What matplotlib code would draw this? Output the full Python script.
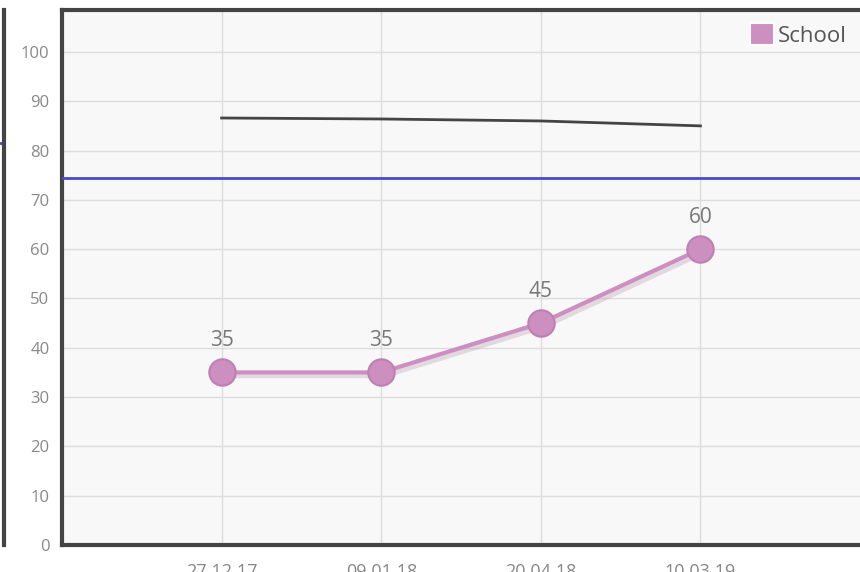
import matplotlib
matplotlib.use('Agg')
import matplotlib.pyplot as plt
from matplotlib.patches import Rectangle
import numpy as np

plt.rcParams['font.family'] = ['Open Sans', 'DejaVu Sans']

# data
dates = ['27.12.17', '09.01.18', '20.04.18', '10.03.19']
school = [35, 35, 45, 60]
avg_line = [86.6, 86.4, 86.0, 85.0]
target = 74.4
yticks = list(range(0, 101, 10))

fig = plt.figure(figsize=(8.6, 5.72), dpi=100)
fig.patch.set_facecolor('white')

# fragment of the neighbouring chart on the left
left = fig.add_axes([-0.2, 0.0472, 0.205, 0.9353])
left.set_xlim(0, 1)
left.set_ylim(0, 108.5)
left.axhline(81.5, color='#4a4acc', lw=2)
for s in ['top', 'bottom', 'left']:
    left.spines[s].set_visible(False)
left.spines['right'].set_color('#444444')
left.spines['right'].set_linewidth(3)
left.set_xticks([])
left.set_yticks([])
left.set_facecolor('white')

ax = fig.add_axes([0.0721, 0.0472, 0.9279, 0.9353])
ax.set_facecolor('#f8f8f8')
x = np.arange(len(dates))

ax.axhline(target, color='#4a4acc', lw=2, zorder=3)
ax.plot(x, avg_line, color='#444444', lw=2, zorder=3)

# shadow under pink line
ax.plot(x + 0.02, np.array(school) - 0.6, color='#b090a8', lw=4, alpha=0.3, zorder=3)
ax.plot(x, school, color='#cc8fbf', lw=3, marker='o', markersize=19,
        markerfacecolor='#cc8fbf', markeredgecolor='#c07fb2', markeredgewidth=1.5,
        label='School', zorder=4)
for xi, v in zip(x, school):
    ax.annotate(str(v), (xi, v), xytext=(0, 23), textcoords='offset points',
                ha='center', va='center', fontsize=15, color='#777777')

ax.set_xlim(-1, 4.0)
ax.set_ylim(0, 108.5)
ax.set_yticks(yticks)
ax.set_xticks(x)
ax.set_xticklabels(dates)
ax.tick_params(axis='both', length=0, colors='#888888', labelsize=12)
ax.tick_params(axis='y', pad=9)
ax.tick_params(axis='x', pad=13, labelsize=13)
ax.grid(True, color='#dddddd', lw=1, zorder=0)
ax.set_axisbelow(True)

for s in ['left', 'top', 'bottom']:
    ax.spines[s].set_color('#444444')
    ax.spines[s].set_linewidth(3)
ax.spines['right'].set_visible(False)

handles = [Rectangle((0, 0), 1, 1, facecolor='#cc8fbf', edgecolor='white', lw=1.5)]
leg = ax.legend(handles, ['School'], loc='upper right', handlelength=1.1,
                handleheight=1.1, handletextpad=0.15, frameon=False, fontsize=16,
                borderaxespad=0.2)
for t in leg.get_texts():
    t.set_color('#555555')

fig.savefig('out.png', dpi=100)
